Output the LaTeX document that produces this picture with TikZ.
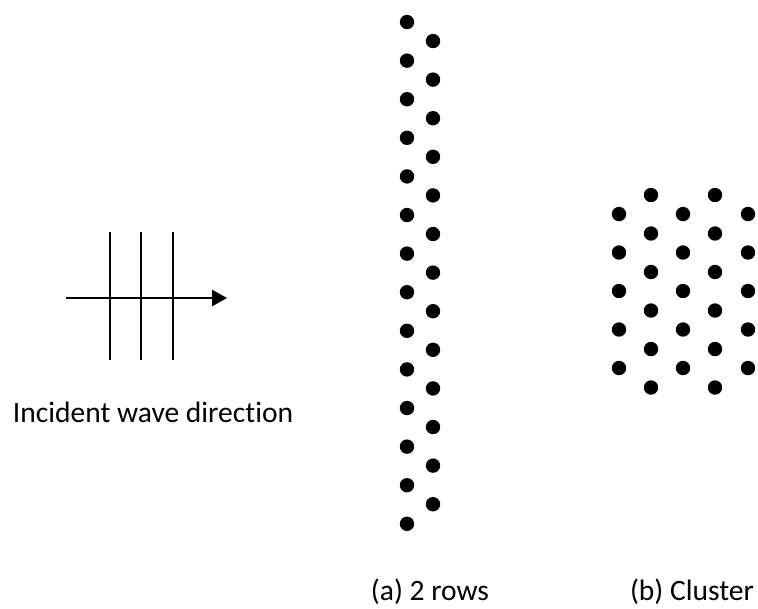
\documentclass[tikz,border=0pt]{standalone}
\usepackage{fontspec}
\setmainfont{Carlito}[Ligatures=NoCommon]
\usetikzlibrary{arrows.meta}
\begin{document}
\begin{tikzpicture}[x=0.025cm,y=-0.025cm,
    dot/.style={circle,fill=black,inner sep=0pt,minimum size=0.36cm},
    wave/.style={line width=0.05cm},
    lbl/.style={font=\fontsize{21}{25}\selectfont}]
    \useasboundingbox (0,0) rectangle (758,608);
    % incident wave
    \coordinate (A) at (66,298);
    \coordinate (B) at (227,298);
    \draw[wave,-{Triangle[length=0.37cm,width=0.4cm]}] (A) -- (B);
    \foreach \x [count=\i] in {110,141,173} {
        \coordinate (c\i t) at (\x,232);
        \coordinate (c\i b) at (\x,360);
        \draw[wave] (c\i t) -- (c\i b);
    }
    \node[lbl] (inc) at (153,412) {Incident wave direction};
    % (a) two rows
    \foreach \i in {0,...,13}
        \node[dot] (l\i) at (407,{22+38.6*\i}) {};
    \foreach \i in {0,...,12}
        \node[dot] (r\i) at (433,{41+38.6*\i}) {};
    % (b) cluster
    \foreach \x [count=\k] in {619,683,748}
        \foreach \j in {0,...,4}
            \node[dot] (o\k\j) at (\x,{214+38.5*\j}) {};
    \foreach \x [count=\k] in {651,715}
        \foreach \j in {0,...,5}
            \node[dot] (e\k\j) at (\x,{195+38.5*\j}) {};
    \node[lbl] (capa) at (430,592) {(a) 2 rows};
    \node[lbl] (capb) at (692,592) {(b) Cluster};
\end{tikzpicture}
\end{document}
